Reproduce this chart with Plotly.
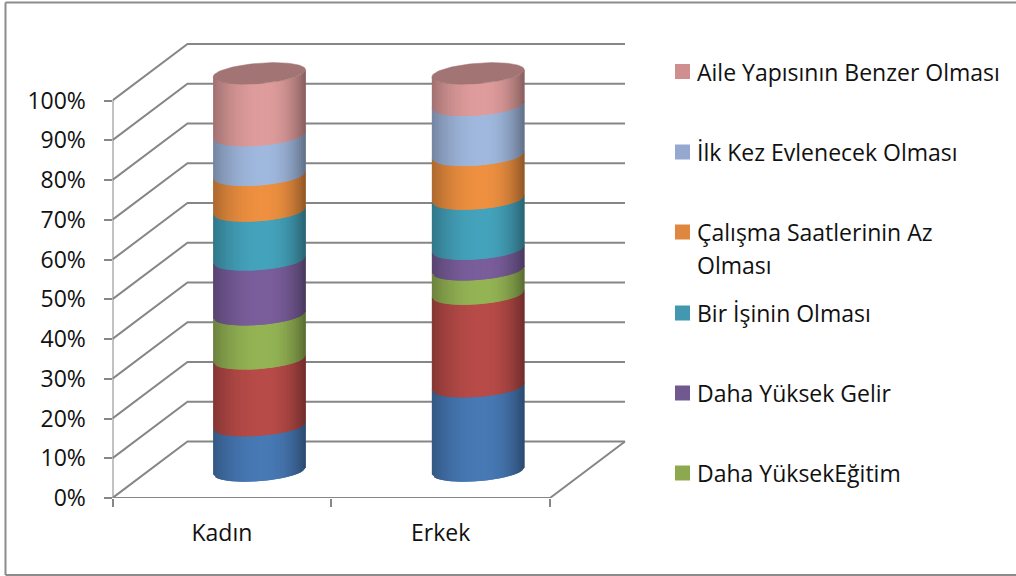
import numpy as np
import plotly.graph_objects as go

categories = ["Kadın", "Erkek"]
series_names = ["Seri 1", "Seri 2", "Daha YüksekEğitim", "Daha Yüksek Gelir", "Bir İşinin Olması",
                "Çalışma Saatlerinin Az Olması", "İlk Kez Evlenecek Olması", "Aile Yapısının Benzer Olması"]
kadin_values = [11.4, 16.8, 11.1, 13.8, 12.3, 9.0, 10.0, 15.6]
erkek_values = [21.2, 23.3, 6.1, 5.2, 12.6, 11.0, 12.6, 8.0]
bar_colors = ["#4779B5", "#B84B48", "#94B454", "#7A5E9C", "#44A3BC", "#EE9040", "#A0B8DE", "#DF9C9C"]
swatch_colors = ["#4A7EBB", "#BE4B48", "#8CA94F", "#71588F", "#4198AF", "#DF873F", "#95A9D0", "#D08F8F"]
cap_color = "#A27474"
y_ticks = list(range(0, 101, 10))
y_tick_labels = [f"{v}%" for v in y_ticks]

# legend: entries shown, top to bottom, with their text lines and page-pixel rows
legend_entries = [
    (7, ["Aile Yapısının Benzer Olması"], 71.5),
    (6, ["İlk Kez Evlenecek Olması"], 152),
    (5, ["Çalışma Saatlerinin Az", "Olması"], 232),
    (4, ["Bir İşinin Olması"], 313),
    (3, ["Daha Yüksek Gelir"], 393),
    (2, ["Daha YüksekEğitim"], 473),
]

# page geometry
W, H = 1016, 576
PLOT_L, PLOT_R, PLOT_T, PLOT_B = 112.5, 632.0, 38.0, 498.0
PX_X = 218.75            # pixels per category
PX_Y = 3.975             # pixels per percent
DX = 75 / PX_X           # 3D depth in x units
DY = 56.5 / PX_Y         # 3D depth in y units
HALF_W = 46.3 / PX_X     # cylinder half-width
ELL_B = 10.2 / PX_Y      # ellipse minor half-axis
ELL_S = 3.5 / PX_Y       # ellipse tilt
GRID = "#868686"
FONT = "Open Sans"
FS = 23

fig = go.Figure()


def wall_line(xs, ys, width=2):
    fig.add_trace(go.Scatter(x=xs, y=ys, mode="lines", line=dict(color=GRID, width=width),
                             hoverinfo="skip", showlegend=False))


for v in y_ticks:
    wall_line([0, DX, 2 + DX], [v, v + DY, v + DY])
wall_line([0, 0], [0, 100])
wall_line([0, 2, 2 + DX], [0, 0, DY])


def shade(u):
    d = (u - 0.1) / (1.1 if u < 0.1 else 0.9)
    edge = 0.72 if u < 0.1 else 0.60
    return edge + (1 - edge) * (1 - abs(d) ** 2.2)


def scale(hex_color, f):
    r, g, b = (int(hex_color[i:i + 2], 16) for i in (1, 3, 5))
    return f"rgb({r * f:.0f},{g * f:.0f},{b * f:.0f})"


def arc(u):
    return -ELL_B * np.sqrt(max(1 - u * u, 0)) + ELL_S * u


N = 40
edges = np.linspace(-1, 1, N + 1)
OVERLAP = 0.15  # each segment tucks slightly under the next to hide seams
for c, values in enumerate([kadin_values, erkek_values]):
    cx = c + 0.5 + DX / 2
    base = 0.48 * DY
    level = 0.0
    for s, val in enumerate(values):
        top_extra = OVERLAP if s < len(values) - 1 else 0.0
        for i in range(N):
            u0, u1 = edges[i], edges[min(i + 2, N)]  # painted over by the next strip
            x0, x1 = cx + HALF_W * u0, cx + HALF_W * u1
            col = scale(bar_colors[s], shade((edges[i] + edges[i + 1]) / 2))
            low0, low1 = base + level + arc(u0), base + level + arc(u1)
            fig.add_trace(go.Scatter(
                x=[x0, x1, x1, x0, x0],
                y=[low0, low1, low1 + val + top_extra, low0 + val + top_extra, low0],
                mode="none", fill="toself", fillcolor=col,
                name=series_names[s], hoverinfo="skip", showlegend=False))
        level += val
    t = np.linspace(0, 2 * np.pi, 90)
    fig.add_trace(go.Scatter(
        x=cx + HALF_W * np.cos(t),
        y=base + level + ELL_B * np.sin(t) + ELL_S * np.cos(t),
        mode="lines", fill="toself", fillcolor=cap_color, line=dict(color=cap_color, width=0.5),
        hoverinfo="skip", showlegend=False))

annotations = []
for s, lines, row in legend_entries:
    fig.add_trace(go.Scatter(x=[682.5], y=[row], xaxis="x2", yaxis="y2", mode="markers",
                             marker=dict(symbol="square", size=15, color=swatch_colors[s]),
                             name=series_names[s], hoverinfo="skip", showlegend=False))
    for k, line in enumerate(lines):
        annotations.append(dict(x=694.5, y=row + 33 * k, xref="x2", yref="y2", text=line, showarrow=False,
                                xanchor="left", yanchor="middle", align="left",
                                font=dict(family=FONT, size=FS, color="#111111")))

# outer frame (left, top and bottom edges of the chart area)
shapes = [dict(type="line", xref="paper", yref="paper", x0=a / W, y0=1 - b / H, x1=c / W, y1=1 - d / H,
               line=dict(color="#8C8C8C", width=2))
          for a, b, c, d in [(5.5, 2.5, 5.5, 575), (5.5, 2.5, 1016, 2.5), (5.5, 575, 1016, 575)]]

fig.update_layout(
    width=W, height=H, margin=dict(l=0, r=0, t=0, b=0, autoexpand=False), autosize=False,
    paper_bgcolor="white", plot_bgcolor="rgba(0,0,0,0)", showlegend=False,
    font=dict(family=FONT, size=FS, color="#111111"),
    annotations=annotations, shapes=shapes,
    xaxis=dict(domain=[PLOT_L / W, PLOT_R / W], range=[0, (PLOT_R - PLOT_L) / PX_X],
               tickmode="array", tickvals=[0.5, 1.5], ticktext=categories, ticks="",
               showgrid=False, zeroline=False, showline=False, ticklabelstandoff=19,
               minor=dict(tickmode="array", tickvals=[0, 1, 2], ticks="outside", ticklen=8,
                          tickwidth=2, tickcolor=GRID, showgrid=False)),
    yaxis=dict(domain=[1 - PLOT_B / H, 1 - PLOT_T / H], range=[0, (PLOT_B - PLOT_T) / PX_Y],
               tickmode="array", tickvals=y_ticks, ticktext=y_tick_labels, ticks="outside", ticklen=8,
               tickwidth=2, tickcolor=GRID, showgrid=False, zeroline=False, showline=False,
               ticklabelstandoff=13),
    xaxis2=dict(domain=[0, 1], range=[0, W], anchor="y2", visible=False),
    yaxis2=dict(domain=[0, 1], range=[H, 0], anchor="x2", visible=False),
)

fig.write_html("out.html", config=dict(displayModeBar=False),
               post_script="document.body.style.margin='0';document.body.style.overflow='hidden';")
